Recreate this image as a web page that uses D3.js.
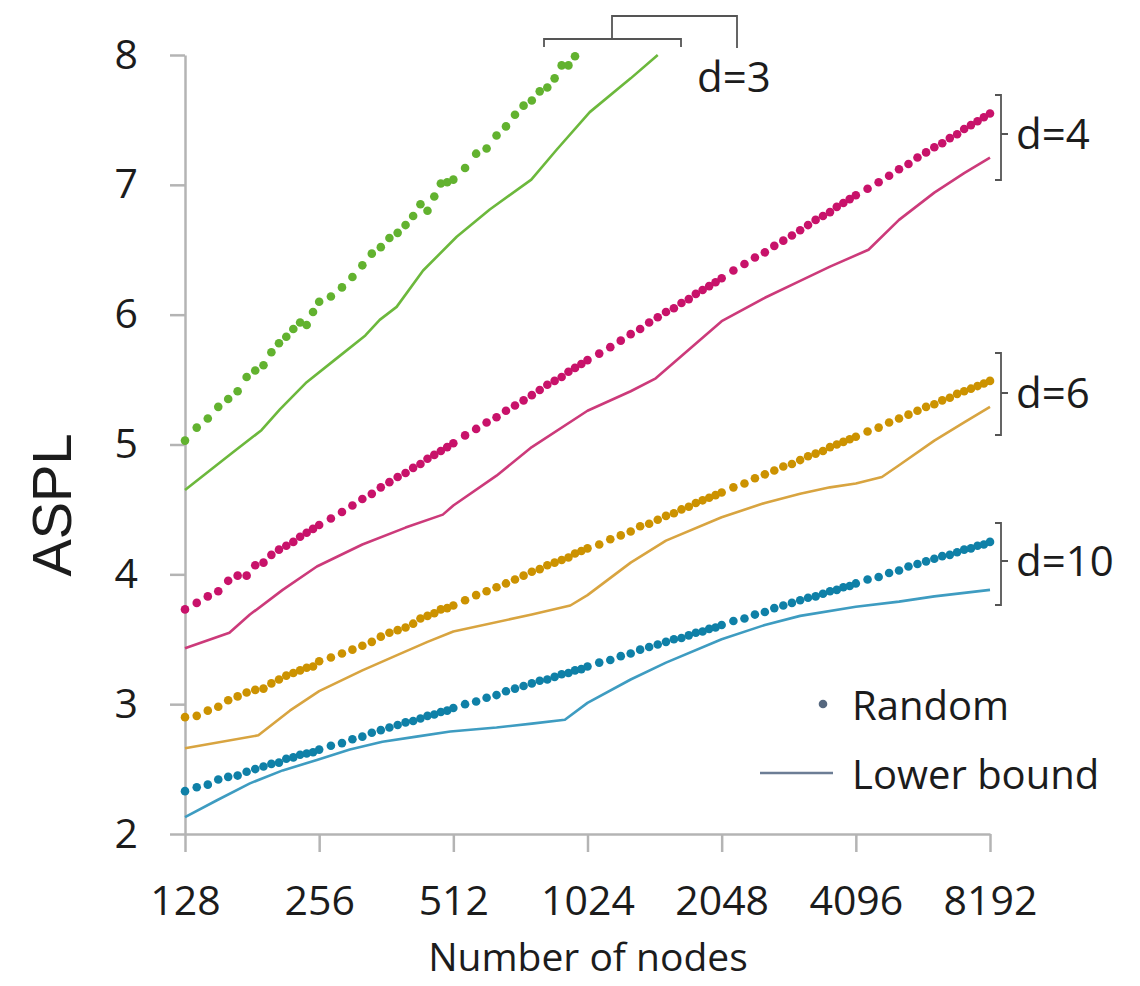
<!DOCTYPE html>
<html>
<head>
<meta charset="utf-8">
<script src="https://cdn.jsdelivr.net/npm/d3@7"></script>
<style>
  body { margin: 0; background: #fff; }
  text { font-family: "Open Sans", sans-serif; fill: #1c1c1c; }
</style>
</head>
<body>
<div id="chart"></div>
<script>
// graph sizes (x values of the random-graph dots)
var nodes = [
  128, 136, 144, 152, 160, 168, 176, 184, 192, 200, 208, 216, 224, 232, 240, 248,
  256, 272, 288, 304, 320, 336, 352, 368, 384, 400, 416, 432, 448, 464, 480, 496,
  512, 544, 576, 608, 640, 672, 704, 736, 768, 800, 832, 864, 896, 928, 960, 992,
  1024, 1088, 1152, 1216, 1280, 1344, 1408, 1472, 1536, 1600, 1664, 1728, 1792, 1856, 1920, 1984,
  2048, 2176, 2304, 2432, 2560, 2688, 2816, 2944, 3072, 3200, 3328, 3456, 3584, 3712, 3840, 3968,
  4096, 4352, 4608, 4864, 5120, 5376, 5632, 5888, 6144, 6400, 6656, 6912, 7168, 7424, 7680, 7936,
  8192
];

// ASPL of random graphs, one value per entry of nodes (d=3 stops at 960)
var randomD3 = [
  5.03, 5.13, 5.20, 5.29, 5.35, 5.41, 5.52, 5.57, 5.61, 5.71, 5.78, 5.83, 5.89, 5.94, 5.92, 6.02,
  6.10, 6.14, 6.21, 6.29, 6.38, 6.47, 6.52, 6.59, 6.63, 6.69, 6.76, 6.85, 6.80, 6.91, 7.01, 7.02,
  7.04, 7.13, 7.24, 7.28, 7.38, 7.45, 7.54, 7.61, 7.65, 7.72, 7.75, 7.82, 7.92, 7.92, 7.99
];
var randomD4 = [
  3.73, 3.78, 3.83, 3.87, 3.95, 3.99, 3.99, 4.07, 4.09, 4.15, 4.19, 4.22, 4.25, 4.29, 4.32, 4.35,
  4.38, 4.43, 4.48, 4.53, 4.58, 4.62, 4.67, 4.71, 4.75, 4.78, 4.82, 4.85, 4.89, 4.92, 4.95, 4.98,
  5.01, 5.07, 5.12, 5.17, 5.21, 5.26, 5.30, 5.34, 5.38, 5.42, 5.46, 5.49, 5.52, 5.56, 5.59, 5.62,
  5.65, 5.70, 5.75, 5.80, 5.85, 5.89, 5.94, 5.98, 6.02, 6.05, 6.09, 6.12, 6.16, 6.19, 6.22, 6.25,
  6.28, 6.34, 6.39, 6.44, 6.48, 6.53, 6.57, 6.61, 6.65, 6.69, 6.73, 6.76, 6.79, 6.83, 6.86, 6.89,
  6.92, 6.97, 7.02, 7.07, 7.12, 7.16, 7.21, 7.25, 7.29, 7.32, 7.36, 7.39, 7.43, 7.46, 7.49, 7.52,
  7.55
];
var randomD6 = [
  2.90, 2.91, 2.95, 2.98, 3.03, 3.06, 3.09, 3.11, 3.12, 3.16, 3.19, 3.22, 3.24, 3.26, 3.28, 3.29,
  3.33, 3.36, 3.39, 3.42, 3.45, 3.48, 3.52, 3.55, 3.57, 3.59, 3.62, 3.66, 3.68, 3.70, 3.73, 3.74,
  3.76, 3.80, 3.84, 3.87, 3.90, 3.93, 3.96, 3.99, 4.02, 4.04, 4.07, 4.09, 4.11, 4.13, 4.16, 4.18,
  4.20, 4.23, 4.27, 4.30, 4.33, 4.37, 4.39, 4.42, 4.45, 4.47, 4.50, 4.52, 4.55, 4.57, 4.59, 4.61,
  4.63, 4.67, 4.70, 4.74, 4.77, 4.80, 4.83, 4.85, 4.88, 4.91, 4.93, 4.95, 4.98, 5.00, 5.02, 5.04,
  5.06, 5.10, 5.13, 5.17, 5.20, 5.23, 5.26, 5.29, 5.31, 5.34, 5.36, 5.39, 5.41, 5.43, 5.45, 5.47,
  5.49
];
var randomD10 = [
  2.33, 2.36, 2.38, 2.42, 2.44, 2.45, 2.48, 2.50, 2.52, 2.54, 2.55, 2.58, 2.59, 2.61, 2.62, 2.63,
  2.65, 2.68, 2.70, 2.73, 2.75, 2.78, 2.80, 2.82, 2.84, 2.86, 2.87, 2.89, 2.91, 2.92, 2.94, 2.95,
  2.97, 3.00, 3.02, 3.05, 3.07, 3.10, 3.12, 3.14, 3.16, 3.18, 3.19, 3.21, 3.23, 3.24, 3.26, 3.27,
  3.29, 3.32, 3.34, 3.37, 3.39, 3.42, 3.44, 3.46, 3.48, 3.50, 3.51, 3.53, 3.55, 3.56, 3.58, 3.59,
  3.61, 3.64, 3.66, 3.69, 3.71, 3.74, 3.76, 3.78, 3.80, 3.82, 3.83, 3.85, 3.87, 3.88, 3.90, 3.91,
  3.93, 3.96, 3.98, 4.01, 4.03, 4.06, 4.08, 4.10, 4.12, 4.14, 4.15, 4.17, 4.19, 4.20, 4.22, 4.23,
  4.25
];

// lower bounds (read at the kinks and a few points in between)
var boundN3 = [128, 164, 190, 209, 240, 277, 325, 350, 382, 438, 521, 618, 766, 873, 1036, 1280, 1472];
var boundD3 = [4.65, 4.94, 5.11, 5.27, 5.48, 5.65, 5.84, 5.96, 6.06, 6.34, 6.60, 6.81, 7.04, 7.27, 7.56, 7.82, 8.00];
var boundN4 = [128, 161, 179, 212, 253, 320, 400, 485, 512, 640, 768, 1024, 1280, 1457, 2048, 2560, 3072, 3584, 4373, 5120, 6144, 7168, 8192];
var boundD4 = [3.43, 3.55, 3.69, 3.88, 4.06, 4.23, 4.36, 4.46, 4.53, 4.76, 4.98, 5.26, 5.41, 5.51, 5.95, 6.13, 6.26, 6.37, 6.50, 6.73, 6.94, 7.09, 7.21];
var boundN6 = [128, 187, 220, 256, 320, 384, 448, 512, 768, 937, 1024, 1280, 1536, 2048, 2560, 3072, 3584, 4096, 4687, 5120, 6144, 7168, 8192];
var boundD6 = [2.66, 2.76, 2.95, 3.10, 3.26, 3.38, 3.48, 3.56, 3.69, 3.76, 3.84, 4.09, 4.26, 4.44, 4.55, 4.62, 4.67, 4.70, 4.75, 4.84, 5.03, 5.17, 5.29];
var boundN10 = [128, 151, 179, 212, 253, 300, 355, 423, 504, 640, 768, 911, 1024, 1280, 1536, 2048, 2560, 3072, 4096, 5120, 6144, 8192];
var boundD10 = [2.13, 2.26, 2.39, 2.49, 2.57, 2.65, 2.71, 2.75, 2.79, 2.82, 2.85, 2.88, 3.01, 3.19, 3.32, 3.50, 3.61, 3.68, 3.75, 3.79, 3.83, 3.88];

var xTicks = [128, 256, 512, 1024, 2048, 4096, 8192];
var yTicks = [2, 3, 4, 5, 6, 7, 8];

var width = 1140, height = 986;

var svg = d3.select('#chart')
  .append('svg')
  .attr('width', width)
  .attr('height', height);

var x = d3.scaleLog().base(2).domain([128, 8192]).range([185, 990]);
var y = d3.scaleLinear().domain([2, 8]).range([834, 55]);

var axisColor = '#b4b4b4';

// axes
var gy = svg.append('g')
  .attr('transform', 'translate(185,0)')
  .call(d3.axisLeft(y).tickValues(yTicks).tickSize(15).tickSizeOuter(0).tickPadding(32)
    .tickFormat(d3.format('d')));
var gx = svg.append('g')
  .attr('transform', 'translate(0,834)')
  .call(d3.axisBottom(x).tickValues(xTicks).tickSize(18).tickSizeOuter(0).tickPadding(34)
    .tickFormat(d3.format('d')));

[gx, gy].forEach(function(g) {
  g.select('.domain').attr('stroke', axisColor).attr('stroke-width', 2.5);
  g.selectAll('.tick line').attr('stroke', axisColor).attr('stroke-width', 2.5);
  g.selectAll('.tick text')
    .attr('fill', '#1c1c1c')
    .style('font-family', '"Open Sans", sans-serif')
    .style('font-size', '41px');
});

var series = [
  {n: nodes.slice(0, randomD3.length), v: randomD3, bn: boundN3, bv: boundD3, dot: '#62b22f', line: '#6cb83c'},
  {n: nodes, v: randomD4, bn: boundN4, bv: boundD4, dot: '#c8126a', line: '#cc3a7a'},
  {n: nodes, v: randomD6, bn: boundN6, bv: boundD6, dot: '#cc9200', line: '#d8a440'},
  {n: nodes, v: randomD10, bn: boundN10, bv: boundD10, dot: '#0f80a7', line: '#3e9cc1'}
];

var line = d3.line()
  .x(function(d) { return x(d[0]); })
  .y(function(d) { return y(d[1]); });

series.forEach(function(s) {
  var pts = s.bn.map(function(n, i) { return [n, s.bv[i]]; });
  svg.append('path')
    .datum(pts)
    .attr('fill', 'none')
    .attr('stroke', s.line)
    .attr('stroke-width', 2.6)
    .attr('stroke-linejoin', 'round')
    .attr('d', line);
});

series.forEach(function(s) {
  var pts = s.v.map(function(v, i) { return [s.n[i], v]; });
  svg.append('g').selectAll('circle')
    .data(pts)
    .enter()
    .append('circle')
    .attr('cx', function(d) { return x(d[0]); })
    .attr('cy', function(d) { return y(d[1]); })
    .attr('r', 4.3)
    .attr('fill', s.dot);
});

// brackets and degree labels
var bracketColor = '#555';
svg.append('path')
  .attr('d', 'M544,47V39H681V47M612,39V16H737V48')
  .attr('fill', 'none').attr('stroke', bracketColor).attr('stroke-width', 1.8);
svg.append('text').attr('x', 697).attr('y', 92).style('font-size', '42px').text('d=3');

var brackets = [
  {label: 'd=4', top: 95, mid: 134, bottom: 180},
  {label: 'd=6', top: 353, mid: 393, bottom: 435},
  {label: 'd=10', top: 523, mid: 561, bottom: 605}
];
brackets.forEach(function(b) {
  svg.append('path')
    .attr('d', 'M995,' + b.top + 'H1001V' + b.bottom + 'H995M1001,' + b.mid + 'H1008')
    .attr('fill', 'none').attr('stroke', bracketColor).attr('stroke-width', 1.8);
  svg.append('text').attr('x', 1016).attr('y', b.mid + 15)
    .style('font-size', '42px').text(b.label);
});

// legend
svg.append('circle').attr('cx', 823).attr('cy', 704).attr('r', 4.3).attr('fill', '#56687f');
svg.append('text').attr('x', 852).attr('y', 720).style('font-size', '40px').text('Random');
svg.append('line').attr('x1', 760).attr('x2', 833).attr('y1', 773).attr('y2', 773)
  .attr('stroke', '#6c7d95').attr('stroke-width', 2.6);
svg.append('text').attr('x', 852).attr('y', 789).style('font-size', '40px').text('Lower bound');

// axis titles
svg.append('text')
  .attr('x', 588).attr('y', 971)
  .attr('text-anchor', 'middle')
  .style('font-size', '39px')
  .text('Number of nodes');
svg.append('text')
  .attr('transform', 'translate(71,505) rotate(-90)')
  .attr('text-anchor', 'middle')
  .style('font-family', '"Liberation Sans", Arial, sans-serif')
  .style('font-size', '56px')
  .text('ASPL');
</script>
</body>
</html>
